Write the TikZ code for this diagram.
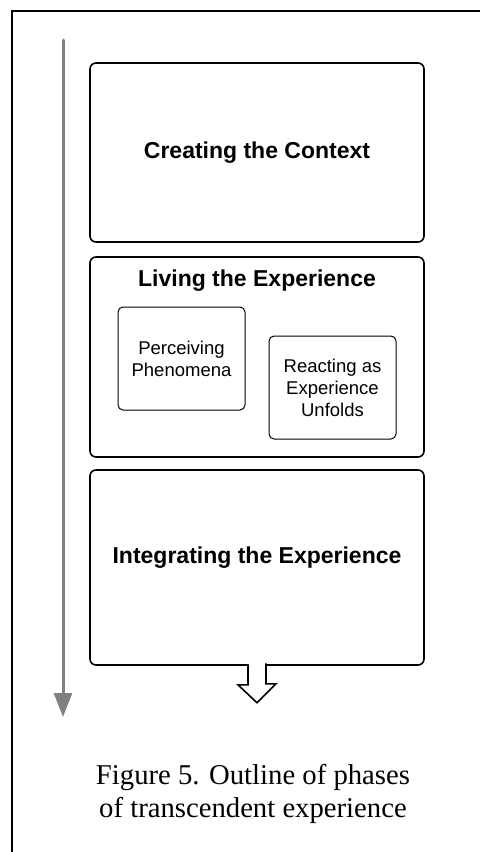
\documentclass[tikz,border=0pt]{standalone}
\usepackage{fontspec}
\setmainfont{Liberation Serif}
\setsansfont{Liberation Sans}
\usetikzlibrary{arrows.meta,calc}

\tikzset{
  phase/.style={draw, line width=1.6pt, rounded corners=6pt, minimum width=334pt,
    inner sep=0pt, font=\sffamily\bfseries\fontsize{23}{27}\selectfont},
  phasetitle/.style={font=\sffamily\bfseries\fontsize{23}{27}\selectfont, inner sep=0pt},
  subphase/.style={draw, line width=1pt, rounded corners=5pt, minimum width=127pt,
    minimum height=103pt, align=center, inner sep=0pt,
    font=\sffamily\fontsize{18.5}{22}\selectfont},
  timeline/.style={draw=gray, line width=3pt, line cap=round,
    -{Triangle[length=24pt,width=18pt]}},
  caption/.style={align=center, font=\rmfamily\fontsize{28.7}{33}\selectfont}
}

\begin{document}
\begin{tikzpicture}[x=1pt, y=-1pt]
  \useasboundingbox (0,0) rectangle (480,852);

  % Frame
  \draw[line width=2pt] (12,852) -- (12,11) -- (480,11);

  % Timeline
  \coordinate (tltop) at (63,40);
  \coordinate (tlend) at (63,717);
  \draw[timeline] (tltop) -- (tlend);

  % --- PHASES ---
  \node[phase, minimum height=179pt] (context) at (257,152.5) {Creating the Context};

  \node[phase, minimum height=200pt] (living) at (257,357) {};
  \node[phasetitle] (livingtitle) at (257,281) {Living the Experience};
  \node[subphase] (perceiving) at (181.5,358.5) {Perceiving\\Phenomena};
  \node[subphase] (reacting) at (332.5,387.5) {Reacting as\\Experience\\Unfolds};

  \node[phase, minimum height=195pt] (integrating) at (257,567.5) {};
  \node[phasetitle] (integratingtitle) at (257,558) {Integrating the Experience};

  % hollow arrow out of the last phase
  \draw[line width=1.6pt, fill=white]
    ($(integrating.south)+(-9,-1.5)$) -- ++(0,20.5) -- ++(-10,0)
    -- ($(integrating.south)+(0,37)$) -- ++(19,-19) -- ++(-10,0) -- ++(0,-20.5);

  % --- CAPTION ---
  \node[caption] (caption) at (253,794) {Figure 5. Outline of phases\\of transcendent experience};
\end{tikzpicture}
\end{document}
